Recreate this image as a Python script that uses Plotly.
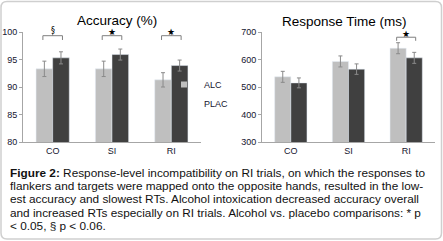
import plotly.graph_objects as go

W, H = 443, 241

categories = ["CO", "SI", "RI"]
acc_alc = [93.3, 93.3, 91.3]
acc_plac = [95.3, 95.9, 93.9]
acc_alc_err = [1.4, 1.4, 1.3]
acc_plac_err = [1.1, 1.0, 1.0]
rt_alc = [537, 593, 641]
rt_plac = [515, 565, 606]
rt_alc_err = [20, 20, 20]
rt_plac_err = [18, 19, 20]
series_names = ["ALC", "PLAC"]
acc_sig = {"CO": "§", "SI": "★", "RI": "★"}
rt_sig = {"RI": "★"}
caption_lines = [
    "<b>Figure 2:</b> Response-level incompatibility on RI trials, on which the responses to",
    "flankers and targets were mapped onto the opposite hands, resulted in the low-",
    "est accuracy and slowest RTs. Alcohol intoxication decreased accuracy overall",
    "and increased RTs especially on RI trials. Alcohol vs. placebo comparisons: * p",
    "< 0.05, § p < 0.06.",
]

C_ALC = "#bfbfbf"
C_PLAC = "#404040"
ERR = "#8a8a8a"
FONT = "Liberation Sans, Arial, sans-serif"
TICKC = "#14142e"

def px(x):
    return x / W

def py(y):
    return 1 - y / H

fig = go.Figure()
err_kw = dict(type="data", color=ERR, thickness=1, width=2)
colors = [C_ALC, C_PLAC]
for xa, ya, vals, errs in (("x", "y", [acc_alc, acc_plac], [acc_alc_err, acc_plac_err]),
                           ("x2", "y2", [rt_alc, rt_plac], [rt_alc_err, rt_plac_err])):
    for name, col, v, e in zip(series_names, colors, vals, errs):
        fig.add_trace(go.Bar(x=categories, y=v, name=name, marker_color=col,
                             error_y=dict(array=e, **err_kw), xaxis=xa, yaxis=ya,
                             showlegend=False, legendgroup=name))
# legend entries (small square swatches like the reference)
for name, col in zip(series_names, colors):
    fig.add_trace(go.Scatter(x=[None], y=[None], mode="markers", name=name,
                             marker=dict(symbol="square", size=6, color=col),
                             xaxis="x", yaxis="y", legendgroup=name, showlegend=True))

BARGAP = 0.44
half = (1 - BARGAP) / 4  # offset of each bar centre from category centre

axis_common = dict(showgrid=False, zeroline=False, showline=True, linecolor="#a6a6a6",
                   linewidth=1, tickfont=dict(family=FONT, size=9, color=TICKC),
                   automargin=False)
ydom = [py(142), py(32)]
fig.update_layout(
    width=W, height=H, margin=dict(l=0, r=0, t=0, b=0, autoexpand=False),
    paper_bgcolor="white", plot_bgcolor="white",
    barmode="group", bargap=BARGAP, bargroupgap=0,
    font=dict(family=FONT, color="black"),
    xaxis=dict(domain=[px(23), px(201)], anchor="y", ticks="", **axis_common),
    yaxis=dict(domain=ydom, anchor="x", range=[80, 100], tickvals=[80, 85, 90, 95, 100],
               ticks="outside", ticklen=3, tickcolor="#a6a6a6", **axis_common),
    xaxis2=dict(domain=[px(262), px(435)], anchor="y2", ticks="", **axis_common),
    yaxis2=dict(domain=ydom, anchor="x2", range=[300, 700], tickvals=[300, 400, 500, 600, 700],
                ticks="outside", ticklen=3, tickcolor="#a6a6a6", **axis_common),
    showlegend=True,
    legend=dict(x=px(164), y=py(70), xanchor="left", yanchor="top", bgcolor="rgba(0,0,0,0)",
                font=dict(family=FONT, size=9, color=TICKC), tracegroupgap=0,
                itemwidth=30, itemsizing="trace"),
)

# titles
fig.add_annotation(text="Accuracy (%)", x=px(117), y=py(20), xref="paper", yref="paper",
                   xanchor="center", yanchor="middle",
                   showarrow=False, font=dict(family=FONT, size=13.5, color="black"))
fig.add_annotation(text="Response Time (ms)", x=px(344), y=py(21), xref="paper", yref="paper",
                   xanchor="center", yanchor="middle",
                   showarrow=False, font=dict(family=FONT, size=13.5, color="black"))

# significance brackets
def bracket(xref, yref, idx, cat, ylow, yhigh, ytip, sym, ysym_px):
    xl, xr = idx - half - 0.025, idx + half + 0.025
    path = (f"M {xl},{ylow} L {xl},{yhigh} L {xr},{yhigh} L {xr},{ylow} "
            f"M {idx},{yhigh} L {idx},{ytip}")
    fig.add_shape(type="path", path=path, xref=xref, yref=yref,
                  line=dict(color="#7f7f7f", width=1))
    fig.add_annotation(text=sym, x=cat, y=py(ysym_px), xref=xref, yref="paper",
                       xanchor="center", yanchor="middle", showarrow=False,
                       font=dict(family="DejaVu Sans, " + FONT, size=9 if sym == "★" else 8,
                                 color="black"))

for i, c in enumerate(categories):
    if c in acc_sig:
        bracket("x", "y", i, c, 98.55, 99.33, 99.9, acc_sig[c], 30 if acc_sig[c] == "§" else 32)
    if c in rt_sig:
        bracket("x2", "y2", i, c, 668, 681, 693, rt_sig[c], 34)

# caption
for k, line in enumerate(caption_lines):
    fig.add_annotation(text=line, x=px(8), y=py(172.7 + 13.3 * k), xref="paper", yref="paper",
                       xanchor="left", yanchor="middle", showarrow=False, align="left",
                       font=dict(family=FONT, size=11.8, color="#111111"))

# rounded border
r = 6
x0, y0, x1, y1 = px(1), py(1.5), px(441.5), py(239)
rx, ry = r / W, r / H
border = (f"M {x0+rx},{y0} L {x1-rx},{y0} Q {x1},{y0} {x1},{y0-ry} "
          f"L {x1},{y1+ry} Q {x1},{y1} {x1-rx},{y1} L {x0+rx},{y1} Q {x0},{y1} {x0},{y1+ry} "
          f"L {x0},{y0-ry} Q {x0},{y0} {x0+rx},{y0} Z")
fig.add_shape(type="path", path=border, xref="paper", yref="paper",
              line=dict(color="#cfcfcf", width=1.5))

fig.write_html("out.html", config={"displayModeBar": False},
               post_script="document.body.style.margin='0px';")
